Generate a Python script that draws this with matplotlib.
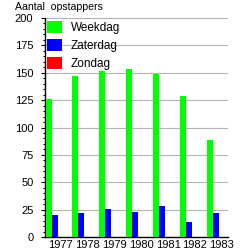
import matplotlib
matplotlib.use("Agg")
import matplotlib.pyplot as plt
from matplotlib.patches import Patch
from matplotlib.ticker import MultipleLocator
import numpy as np

plt.rcParams['font.family'] = ['Liberation Sans', 'DejaVu Sans']

years = ['1977', '1978', '1979', '1980', '1981', '1982', '1983']
weekdag = [126, 147, 152, 153, 149, 129, 89]
zaterdag = [20.5, 21.5, 26, 22.5, 28, 14, 21.5]
zondag = [0, 0, 0, 0, 0, 0, 0]
series_names = ['Weekdag', 'Zaterdag', 'Zondag']
colors = ['#00ff00', '#0000ff', '#ff0000']

fig = plt.figure(figsize=(2.46, 2.50), dpi=100)
ax = fig.add_axes([0.181, 0.052, 0.744, 0.876])

x = np.arange(len(years))
w = 0.222
for k, vals in enumerate([weekdag, zaterdag, zondag]):
    ax.bar(x + (k - 2) * w, vals, width=w, color=colors[k], linewidth=0, zorder=3)

ax.set_xlim(-0.575 - 0.02, 6 + 0.5 * w + 0.1)
ax.set_ylim(0, 200)
ax.set_xticks(x)
ax.set_xticklabels(years)
ax.yaxis.set_major_locator(MultipleLocator(25))
ax.yaxis.set_minor_locator(MultipleLocator(5))
ax.grid(axis='y', color='#b4b4b4', linewidth=0.8, zorder=0)
ax.set_axisbelow(True)
for s in ['top', 'right']:
    ax.spines[s].set_visible(False)
for s in ['left', 'bottom']:
    ax.spines[s].set_linewidth(1.0)
    ax.spines[s].set_color('black')
ax.tick_params(axis='y', which='major', length=3, width=0.8, labelsize=8, pad=5)
ax.tick_params(axis='y', which='minor', length=1.5, width=0.8)
ax.tick_params(axis='x', length=0, labelsize=8, pad=2)

handles = [Patch(facecolor=c, edgecolor='none') for c in colors]
ax.legend(handles, series_names, loc='upper left', frameon=False, fontsize=8.5,
          handlelength=1.25, handleheight=1.25, handletextpad=0.7,
          labelspacing=0.4, borderaxespad=0.15, borderpad=0.1)

fig.text(15 / 246, 1 - 7 / 250, 'Aantal  opstappers', fontsize=7.6, ha='left', va='center')

fig.savefig('out.png', dpi=100)
